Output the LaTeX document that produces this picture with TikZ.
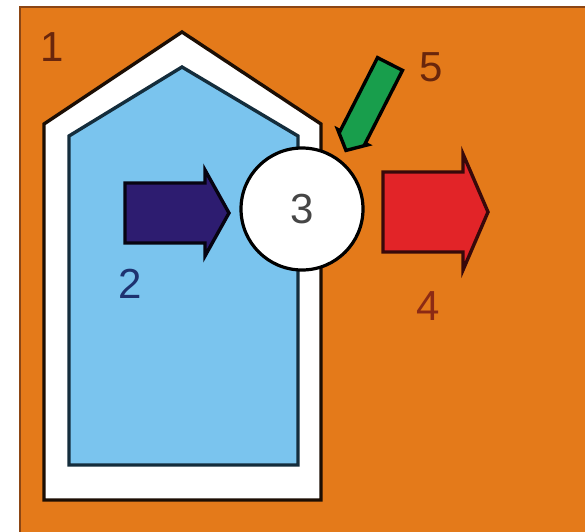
\documentclass[tikz,border=0pt]{standalone}
\usepackage{fontspec}
\setmainfont{Liberation Sans}
\usetikzlibrary{positioning,calc}
\definecolor{BG-ORANGE}{RGB}{228, 122, 26}
\definecolor{BG-EDGE}{RGB}{140, 70, 20}
\definecolor{ROOM-BLUE}{RGB}{122, 196, 238}
\definecolor{ROOM-EDGE}{RGB}{20, 45, 60}
\definecolor{IN-NAVY}{RGB}{45, 28, 112}
\definecolor{OUT-RED}{RGB}{226, 36, 40}
\definecolor{FRESH-GREEN}{RGB}{24, 158, 76}
\definecolor{LBL-BROWN}{RGB}{105, 38, 12}
\definecolor{LBL-RED}{RGB}{140, 42, 20}
\definecolor{LBL-NAVY}{RGB}{30, 50, 112}
\definecolor{LBL-GREY}{RGB}{70, 70, 70}

\tikzset{
  outline/.style={line width=3.4pt, line join=miter},
  num/.style={font=\fontsize{42}{42}\selectfont, inner sep=0pt}
}

\begin{document}
\begin{tikzpicture}[x=1pt, y=-1pt]
  \useasboundingbox (0,0) rectangle (585,531);
  \clip (0,0) rectangle (585,531);

  % Surroundings
  \fill[BG-ORANGE, draw=BG-EDGE, line width=2pt] (20,7) rectangle (592,538);
  \node[num, text=LBL-BROWN] (lbl1) at (52,47) {1};

  % Building shell (outer wall)
  \fill[white, draw=black!80!BG-EDGE, outline]
    (44,124) -- (182,32) -- (321,124) -- (321,500) -- (44,500) -- cycle;

  % Room (inner)
  \fill[ROOM-BLUE, draw=ROOM-EDGE, outline]
    (69,136) -- (182,67) -- (298,136) -- (298,465) -- (69,465) -- cycle;

  % Extract air from the room
  \fill[IN-NAVY, draw=black!85!IN-NAVY, outline]
    (125,183) -- (205,183) -- (205,170) -- (229,213) -- (205,256)
    -- (205,243) -- (125,243) -- cycle;
  \node[num, text=LBL-NAVY] (lbl2) at (130,284) {2};

  % Heat exchanger
  \node[circle, draw=black, fill=white, line width=3.2pt, minimum size=122pt,
        inner sep=0pt, font=\fontsize{42}{42}\selectfont, text=LBL-GREY]
    (unit) at (302,209) {3};

  % Exhaust air
  \fill[OUT-RED, draw=black!75!OUT-RED, outline]
    (383,172) -- (463,172) -- (463,154) -- (488,212) -- (463,270)
    -- (463,252) -- (383,252) -- cycle;
  \node[num, text=LBL-RED] (lbl4) at (428,306) {4};

  % Fresh air
  \begin{scope}[shift={(390,64)}, rotate=243]
    \fill[FRESH-GREEN, draw=black, outline]
      (0,-14) -- (82,-14) -- (82,-17) -- (97,0) -- (82,17) -- (82,14)
      -- (0,14) -- cycle;
  \end{scope}
  \node[num, text=LBL-BROWN] (lbl5) at (431,67) {5};
\end{tikzpicture}
\end{document}
